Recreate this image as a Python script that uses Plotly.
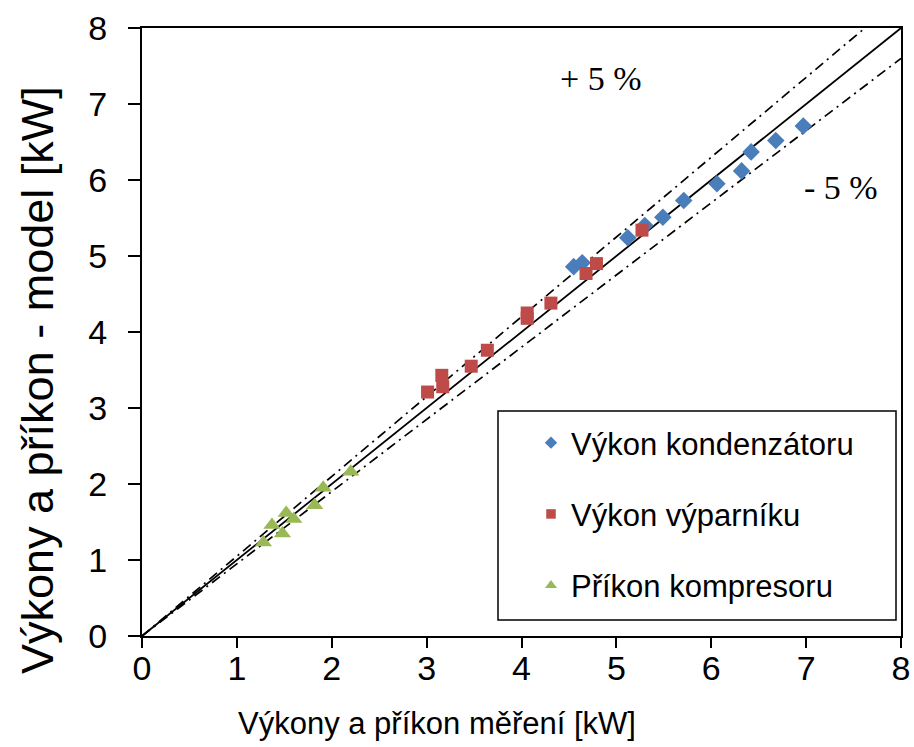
import plotly.graph_objects as go

# ---- data ----
kond_x = [4.55, 4.64, 5.12, 5.30, 5.49, 5.71, 6.06, 6.32, 6.42, 6.68, 6.97]
kond_y = [4.86, 4.91, 5.24, 5.40, 5.51, 5.73, 5.95, 6.12, 6.37, 6.52, 6.71]

vyp_x = [3.01, 3.16, 3.17, 3.47, 3.64, 4.06, 4.06, 4.31, 4.68, 4.79, 5.27]
vyp_y = [3.21, 3.43, 3.28, 3.55, 3.76, 4.25, 4.18, 4.38, 4.77, 4.90, 5.34]

komp_x = [1.28, 1.37, 1.48, 1.52, 1.60, 1.82, 1.91, 2.20]
komp_y = [1.23, 1.46, 1.35, 1.62, 1.54, 1.72, 1.95, 2.16]

ref_x = [0, 8]
tolerance = 0.05
axis_ticks = [0, 1, 2, 3, 4, 5, 6, 7, 8]

series_names = ["Výkon kondenzátoru", "Výkon výparníku", "Příkon kompresoru"]

BLUE = "#4A7EBB"
RED = "#BE4B48"
GREEN = "#98B954"
FONT = "Liberation Sans, Arial, sans-serif"
SERIF = "Liberation Serif, Times New Roman, serif"

W, H = 914, 747
ML, MR, MT, MB = 142, 13, 28, 111
PW, PH = W - ML - MR, H - MT - MB


def px_to_paper(px, py):
    return ((px - ML) / PW, (H - MB - py) / PH)


fig = go.Figure()

DASHDOT = "10px,5px,2px,5px"
fig.add_trace(go.Scatter(x=ref_x, y=list(ref_x), mode="lines",
                         line=dict(color="black", width=1.8), showlegend=False, hoverinfo="skip"))
fig.add_trace(go.Scatter(x=[0, ref_x[1] / (1 + tolerance)], y=[0, ref_x[1]], mode="lines",
                         line=dict(color="black", width=1.7, dash=DASHDOT),
                         showlegend=False, hoverinfo="skip"))
fig.add_trace(go.Scatter(x=ref_x, y=[v * (1 - tolerance) for v in ref_x], mode="lines",
                         line=dict(color="black", width=1.7, dash=DASHDOT),
                         showlegend=False, hoverinfo="skip"))

fig.add_trace(go.Scatter(x=kond_x, y=kond_y, mode="markers", showlegend=False,
                         marker=dict(symbol="diamond", size=13.5, color=BLUE)))
fig.add_trace(go.Scatter(x=vyp_x, y=vyp_y, mode="markers", showlegend=False,
                         marker=dict(symbol="square", size=13, color=RED)))
fig.add_trace(go.Scatter(x=komp_x, y=komp_y, mode="markers", showlegend=False,
                         marker=dict(symbol="triangle-up", size=15, color=GREEN)))

# legend entries (smaller legend symbols as in the original)
for name, sym, col, grp, sz in [
    (series_names[0], "diamond", BLUE, "a", 9.5),
    (series_names[1], "square", RED, "b", 9.5),
    (series_names[2], "triangle-up", GREEN, "c", 10.5),
]:
    fig.add_trace(go.Scatter(x=[None], y=[None], mode="markers", name=name, legendgroup=grp,
                             marker=dict(symbol=sym, size=sz, color=col)))

axis_common = dict(
    range=[0, 8], tickvals=axis_ticks, showgrid=False, zeroline=False,
    showline=True, linecolor="black", linewidth=2, mirror=True,
    ticks="outside", tickwidth=2, tickcolor="black", automargin=False,
    tickfont=dict(family=FONT, size=34, color="black"),
)

lx0, ly0 = px_to_paper(498, 620)
lx1, ly1 = px_to_paper(896, 411)
legx, legy = px_to_paper(531, 416)
xt_x, xt_y = px_to_paper(437, 723)
yt_x, yt_y = px_to_paper(37, 380)

fig.update_layout(
    width=W, height=H,
    margin=dict(l=ML, r=MR, t=MT, b=MB),
    paper_bgcolor="white", plot_bgcolor="white",
    xaxis=dict(**axis_common, ticklen=10, ticklabelstandoff=-9),
    yaxis=dict(**axis_common, ticklen=12, ticklabelstandoff=14),
    legend=dict(x=legx, y=legy, xanchor="left", yanchor="top",
                bgcolor="rgba(0,0,0,0)", borderwidth=0,
                font=dict(family=FONT, size=31, color="black"),
                tracegroupgap=28, itemsizing="trace"),
    shapes=[dict(type="rect", xref="paper", yref="paper",
                 x0=lx0, x1=lx1, y0=ly0, y1=ly1,
                 line=dict(color="black", width=1.5), fillcolor="white", layer="below")],
    annotations=[
        dict(x=xt_x, y=xt_y, xref="paper", yref="paper", xanchor="center", yanchor="middle",
             text="Výkony a příkon měření [kW]", showarrow=False,
             font=dict(family=FONT, size=31, color="black")),
        dict(x=yt_x, y=yt_y, xref="paper", yref="paper", xanchor="center", yanchor="middle",
             text="Výkony a příkon - model [kW]", showarrow=False, textangle=-90,
             font=dict(family=FONT, size=45, color="black")),
    ],
)

# +/- 5 % labels, positioned by pixel location converted to data coordinates
for text, px, py in [("+ 5 %", 601, 78), ("- 5 %", 841, 187)]:
    fx, fy = px_to_paper(px, py)
    fig.add_annotation(x=fx * 8, y=fy * 8, xref="x", yref="y", text=text, showarrow=False,
                       font=dict(family=SERIF, size=34, color="black"))

fig.write_html("out.html")
